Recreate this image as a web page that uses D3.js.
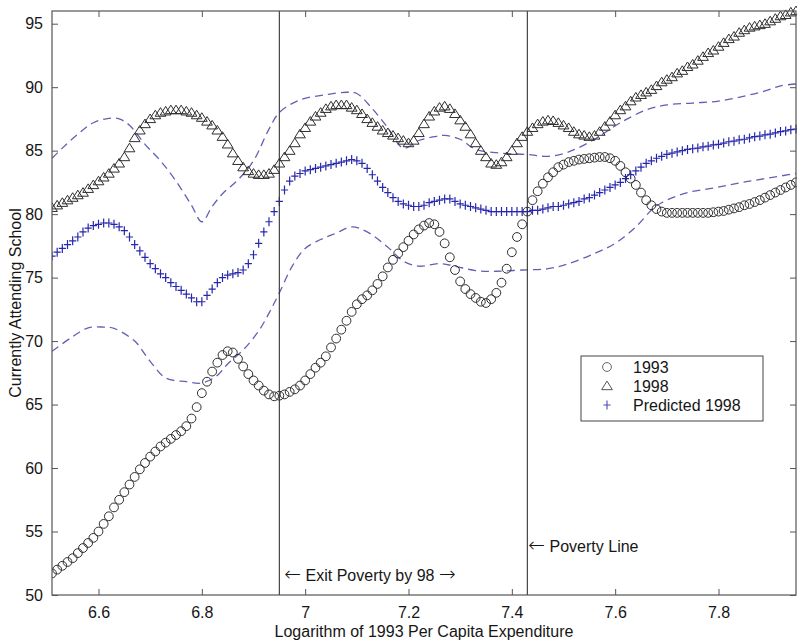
<!DOCTYPE html>
<html>
<head>
<meta charset="utf-8">
<script src="https://cdn.jsdelivr.net/npm/d3@7"></script>
<style>
  html, body { margin: 0; padding: 0; background: #fff; }
  svg { display: block; font-family: Arial, "Liberation Sans", sans-serif; }
  .arrow { font-family: "DejaVu Sans", sans-serif; font-size: 20px; font-weight: 300; }
</style>
</head>
<body>
<svg id="chart" width="797" height="642"></svg>
<script>
// School attendance by log 1993 per-capita expenditure (grid step 0.01, 6.51 .. 7.95)
const xStart = 6.51;
const xStep = 0.01;

const attend1993 = [
  51.7, 52.0, 52.3, 52.6, 52.9, 53.3, 53.7, 54.1, 54.5, 55.0,
  55.6, 56.2, 56.9, 57.5, 58.1, 58.7, 59.3, 59.9, 60.4, 60.9,
  61.3, 61.7, 62.0, 62.3, 62.6, 62.9, 63.3, 63.9, 64.8, 65.9,
  66.8, 67.6, 68.3, 68.9, 69.2, 69.1, 68.6, 68.0, 67.4, 66.9,
  66.5, 66.1, 65.8, 65.65, 65.7, 65.8, 66.0, 66.2, 66.5, 66.9,
  67.4, 67.9, 68.3, 68.8, 69.5, 70.2, 70.9, 71.6, 72.3, 72.9,
  73.3, 73.6, 74.0, 74.5, 75.1, 75.8, 76.4, 76.9, 77.4, 77.9,
  78.4, 78.8, 79.1, 79.3, 79.2, 78.6, 77.7, 76.6, 75.6, 74.7,
  74.1, 73.7, 73.4, 73.1, 73.0, 73.3, 73.8, 74.6, 75.7, 77.0,
  78.2, 79.2, 80.2, 81.1, 81.8, 82.4, 82.9, 83.3, 83.7, 83.9,
  84.1, 84.2, 84.3, 84.35, 84.4, 84.45, 84.5, 84.5, 84.4, 84.2,
  83.8, 83.3, 82.8, 82.3, 81.7, 81.1, 80.7, 80.4, 80.2, 80.1,
  80.1, 80.1, 80.1, 80.1, 80.1, 80.1, 80.1, 80.1, 80.15, 80.2,
  80.25, 80.35, 80.45, 80.55, 80.7, 80.8, 80.95, 81.1, 81.3, 81.5,
  81.7, 81.9, 82.1, 82.3, 82.5
];

const attend1998 = [
  80.5, 80.7, 80.9, 81.1, 81.3, 81.5, 81.7, 82.0, 82.3, 82.6,
  82.9, 83.2, 83.6, 84.0, 84.5, 85.2, 86.0, 86.6, 87.1, 87.5,
  87.8, 88.0, 88.1, 88.2, 88.2, 88.2, 88.1, 88.0, 87.8, 87.6,
  87.3, 87.0, 86.6, 86.1, 85.5, 84.8, 84.2, 83.7, 83.4, 83.2,
  83.1, 83.1, 83.2, 83.5, 84.0, 84.5, 85.0, 85.6, 86.3, 86.8,
  87.3, 87.7, 88.0, 88.3, 88.5, 88.6, 88.6, 88.6, 88.4, 88.2,
  87.9, 87.5, 87.2, 86.9, 86.6, 86.4, 86.2, 86.0, 85.8, 85.6,
  85.8, 86.4, 87.1, 87.7, 88.1, 88.4, 88.5, 88.3, 87.9, 87.4,
  86.9, 86.3, 85.6, 85.0, 84.5, 84.0, 83.9, 84.1, 84.5, 85.0,
  85.6, 86.1, 86.5, 86.8, 87.1, 87.3, 87.4, 87.35, 87.2, 87.0,
  86.8, 86.5, 86.3, 86.2, 86.1, 86.2, 86.5, 86.9, 87.3, 87.8,
  88.2, 88.5, 88.9, 89.2, 89.4, 89.6, 89.8, 90.1, 90.4, 90.6,
  90.8, 91.1, 91.3, 91.6, 91.8, 92.1, 92.4, 92.7, 92.9, 93.2,
  93.5, 93.8, 94.0, 94.3, 94.5, 94.7, 94.8, 94.9, 95.0, 95.2,
  95.4, 95.6, 95.7, 95.9, 96.0
];

const predicted1998 = [
  76.7, 77.0, 77.3, 77.6, 77.9, 78.2, 78.6, 78.9, 79.1, 79.2,
  79.3, 79.3, 79.2, 79.0, 78.7, 78.2, 77.6, 77.1, 76.6, 76.1,
  75.7, 75.3, 75.0, 74.6, 74.3, 74.0, 73.7, 73.4, 73.1, 73.1,
  73.6, 74.1, 74.6, 75.0, 75.2, 75.3, 75.4, 75.6, 76.1, 76.8,
  77.7, 78.6, 79.4, 80.2, 81.0, 81.9, 82.6, 83.0, 83.2, 83.4,
  83.5, 83.6, 83.7, 83.8, 83.9, 84.0, 84.1, 84.2, 84.3, 84.2,
  84.0, 83.6, 83.1, 82.6, 82.1, 81.7, 81.3, 81.0, 80.8, 80.7,
  80.6, 80.6, 80.7, 80.9, 81.0, 81.1, 81.2, 81.2, 81.0, 80.8,
  80.7, 80.6, 80.5, 80.4, 80.3, 80.2, 80.2, 80.2, 80.2, 80.2,
  80.2, 80.2, 80.2, 80.3, 80.3, 80.4, 80.5, 80.6, 80.6, 80.7,
  80.8, 80.9, 81.0, 81.2, 81.3, 81.5, 81.7, 81.9, 82.1, 82.3,
  82.5, 82.8, 83.1, 83.4, 83.7, 84.0, 84.2, 84.4, 84.55, 84.7,
  84.8, 84.9, 85.0, 85.1, 85.15, 85.2, 85.3, 85.35, 85.45, 85.5,
  85.6, 85.7, 85.75, 85.85, 85.9, 86.0, 86.1, 86.15, 86.25, 86.3,
  86.4, 86.5, 86.55, 86.65, 86.7
];

// Confidence band around the prediction, as [log expenditure, percent]
const bandUpper = [
  [6.51, 84.4], [6.53, 85.2], [6.56, 86.3], [6.59, 87.2], [6.62, 87.55], [6.64, 87.5],
  [6.66, 87.0], [6.69, 85.5], [6.72, 84.2], [6.75, 82.6], [6.78, 80.7], [6.80, 79.4],
  [6.82, 80.6], [6.84, 81.6], [6.87, 82.7], [6.90, 84.2], [6.93, 86.7], [6.95, 88.0],
  [6.99, 89.0], [7.04, 89.4], [7.08, 89.6], [7.10, 89.5], [7.13, 88.3], [7.16, 86.8],
  [7.19, 85.2], [7.22, 85.8], [7.25, 86.1], [7.27, 86.2], [7.30, 85.9], [7.33, 85.1],
  [7.38, 84.8], [7.43, 84.7], [7.47, 84.55], [7.51, 84.9], [7.56, 85.9], [7.61, 87.2],
  [7.66, 88.2], [7.70, 88.6], [7.75, 88.75], [7.80, 88.9], [7.85, 89.3], [7.89, 89.7],
  [7.92, 90.1], [7.95, 90.25]
];
const bandLower = [
  [6.51, 69.2], [6.55, 70.35], [6.58, 71.05], [6.61, 71.1], [6.63, 71.0], [6.67, 70.0],
  [6.70, 68.4], [6.73, 67.1], [6.77, 66.8], [6.80, 66.7], [6.83, 67.3], [6.85, 68.2],
  [6.88, 69.3], [6.91, 70.8], [6.93, 72.2], [6.95, 73.8], [6.975, 75.9], [7.00, 77.3],
  [7.03, 78.0], [7.06, 78.5], [7.09, 79.0], [7.12, 78.6], [7.16, 77.4], [7.19, 76.3],
  [7.22, 75.9], [7.26, 76.1], [7.29, 75.9], [7.33, 75.55], [7.37, 75.5], [7.42, 75.6],
  [7.47, 75.7], [7.51, 76.1], [7.56, 76.9], [7.60, 77.7], [7.64, 79.0], [7.67, 80.3],
  [7.69, 80.9], [7.74, 81.7], [7.79, 82.05], [7.84, 82.45], [7.89, 82.8], [7.95, 83.2]
];

const xTicks = [6.6, 6.8, 7.0, 7.2, 7.4, 7.6, 7.8];
const yTicks = [50, 55, 60, 65, 70, 75, 80, 85, 90, 95];

// Reference lines: households exiting poverty and the poverty line
const exitPovertyX = 6.95;
const povertyLineX = 7.43;

const legendLabels = ["1993", "1998", "Predicted 1998"];

// ---------- layout ----------
const svg = d3.select("#chart");
const pLeft = 52, pRight = 796, pTop = 11, pBottom = 595;

const x = d3.scaleLinear().domain([6.51, 7.95]).range([pLeft, pRight]);
const y = d3.scaleLinear().domain([50, 96]).range([pBottom, pTop]);

const gridX = i => xStart + i * xStep;
const ink = "#2e2e2e";
const blue = "#2727ad";
const dashBlue = "#6161b2";
const textInk = "#161616";

svg.append("defs").append("clipPath").attr("id", "plotClip")
  .append("rect").attr("x", pLeft).attr("y", pTop - 6)
  .attr("width", pRight - pLeft + 6).attr("height", pBottom - pTop + 6);

const plot = svg.append("g").attr("clip-path", "url(#plotClip)");

// dashed band lines
const bandLine = d3.line().x(d => x(d[0])).y(d => y(d[1])).curve(d3.curveCatmullRom.alpha(0.5));
[bandUpper, bandLower].forEach(b => {
  plot.append("path").datum(b)
    .attr("d", bandLine)
    .attr("fill", "none")
    .attr("stroke", dashBlue)
    .attr("stroke-width", 1.3)
    .attr("stroke-dasharray", "8,5");
});

// vertical reference lines
[exitPovertyX, povertyLineX].forEach(v => {
  svg.append("line")
    .attr("x1", x(v)).attr("x2", x(v))
    .attr("y1", pTop).attr("y2", pBottom)
    .attr("stroke", "#333").attr("stroke-width", 1.1);
});

// marker shapes
const triPath = s => `M0,${-s}L${s * 1.1},${s * 0.75}L${-s * 1.1},${s * 0.75}Z`;
const plusPath = s => `M${-s * 0.8},0H${s * 0.8}M0,${-s}V${s}`;

// 1998: open triangles
plot.append("g").selectAll("path").data(attend1998).join("path")
  .attr("transform", (d, i) => `translate(${x(gridX(i))},${y(d)})`)
  .attr("d", triPath(4.9))
  .attr("fill", "none").attr("stroke", ink).attr("stroke-width", 1);

// 1993: open circles
plot.append("g").selectAll("circle").data(attend1993).join("circle")
  .attr("cx", (d, i) => x(gridX(i)))
  .attr("cy", d => y(d))
  .attr("r", 4.4)
  .attr("fill", "none").attr("stroke", ink).attr("stroke-width", 1);

// predicted 1998: blue plus signs
plot.append("g").selectAll("path").data(predicted1998).join("path")
  .attr("transform", (d, i) => `translate(${x(gridX(i))},${y(d)})`)
  .attr("d", plusPath(4.5))
  .attr("fill", "none").attr("stroke", blue).attr("stroke-width", 1.2);

// ---------- axes (ticks point inward, box frame) ----------
const frame = "#555";
svg.append("rect")
  .attr("x", pLeft).attr("y", pTop)
  .attr("width", pRight - pLeft).attr("height", pBottom - pTop)
  .attr("fill", "none").attr("stroke", frame).attr("stroke-width", 1.2);

const tickLen = 6;
const axisStyle = g => {
  g.select(".domain").remove();
  g.selectAll(".tick line").attr("stroke", frame);
  g.selectAll(".tick text").attr("fill", textInk).style("font-size", "16px")
    .style("font-family", "Arial, 'Liberation Sans', sans-serif");
};

svg.append("g").attr("transform", `translate(0,${pBottom})`)
  .call(d3.axisBottom(x).tickValues(xTicks).tickFormat(d3.format("~g"))
    .tickSizeInner(-tickLen).tickSizeOuter(0).tickPadding(12))
  .call(axisStyle);
svg.append("g").attr("transform", `translate(0,${pTop})`)
  .call(d3.axisTop(x).tickValues(xTicks).tickFormat("")
    .tickSizeInner(-tickLen).tickSizeOuter(0))
  .call(axisStyle);
svg.append("g").attr("transform", `translate(${pLeft},0)`)
  .call(d3.axisLeft(y).tickValues(yTicks).tickFormat(d3.format("d"))
    .tickSizeInner(-tickLen).tickSizeOuter(0).tickPadding(9))
  .call(axisStyle);
svg.append("g").attr("transform", `translate(${pRight},0)`)
  .call(d3.axisRight(y).tickValues(yTicks).tickFormat("")
    .tickSizeInner(-tickLen).tickSizeOuter(0))
  .call(axisStyle);

// axis titles
svg.append("text")
  .attr("x", (pLeft + pRight) / 2).attr("y", 637)
  .attr("text-anchor", "middle")
  .style("font-size", "16px").attr("fill", textInk)
  .text("Logarithm of 1993 Per Capita Expenditure");

svg.append("text")
  .attr("transform", `translate(21,${(pTop + pBottom) / 2}) rotate(-90)`)
  .attr("text-anchor", "middle")
  .style("font-size", "16px").attr("fill", textInk)
  .text("Currently Attending School");

// annotations (arrows set in a font with full-size arrow glyphs)
const exitNote = svg.append("text")
  .attr("x", x(exitPovertyX) + 5).attr("y", 581)
  .style("font-size", "16px").attr("fill", textInk);
exitNote.append("tspan").attr("class", "arrow").text("←");
exitNote.append("tspan").text(" Exit Poverty by 98 ");
exitNote.append("tspan").attr("class", "arrow").text("→");

const povNote = svg.append("text")
  .attr("x", x(povertyLineX) + 1).attr("y", 552)
  .style("font-size", "16px").attr("fill", textInk);
povNote.append("tspan").attr("class", "arrow").text("←");
povNote.append("tspan").text(" Poverty Line");

// ---------- legend ----------
const lg = svg.append("g");
lg.append("rect")
  .attr("x", 581).attr("y", 356).attr("width", 182).attr("height", 65)
  .attr("fill", "#fff").attr("stroke", "#444").attr("stroke-width", 1);

const rowY = [367, 386, 405];
const symX = 607;
lg.append("circle").attr("cx", symX).attr("cy", rowY[0]).attr("r", 4.4)
  .attr("fill", "none").attr("stroke", "#666").attr("stroke-width", 1);
lg.append("path").attr("transform", `translate(${symX},${rowY[1]})`).attr("d", triPath(4.9))
  .attr("fill", "none").attr("stroke", "#555").attr("stroke-width", 1);
lg.append("path").attr("transform", `translate(${symX},${rowY[2]})`).attr("d", plusPath(4.5))
  .attr("fill", "none").attr("stroke", "#4a4ab8").attr("stroke-width", 1.1);

legendLabels.forEach((t, i) => {
  lg.append("text")
    .attr("x", 633).attr("y", rowY[i]).attr("dy", "0.36em")
    .style("font-size", "16px").attr("fill", textInk)
    .text(t);
});
</script>
</body>
</html>
